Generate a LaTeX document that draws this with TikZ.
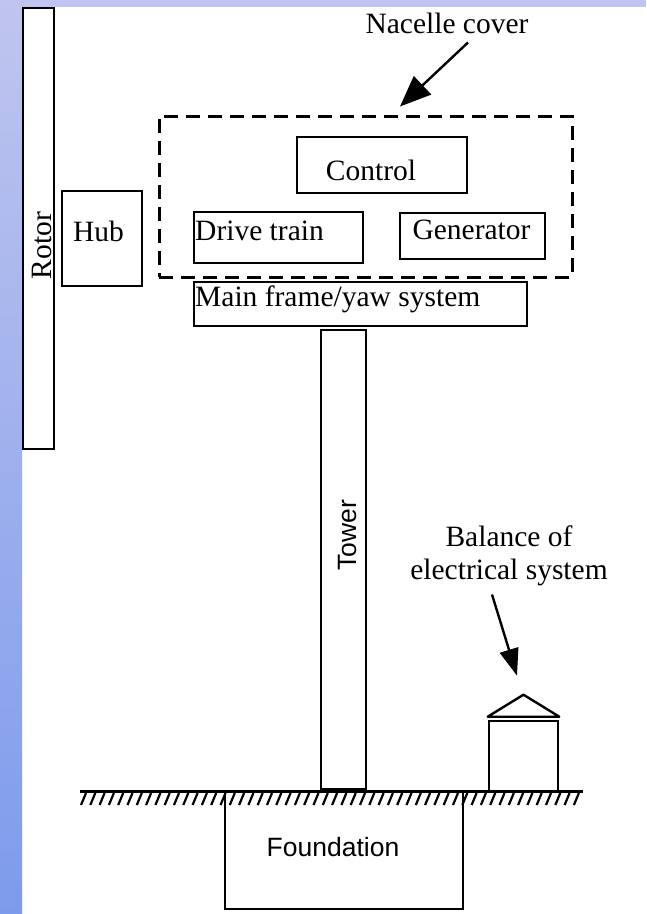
\documentclass[tikz,border=0pt]{standalone}
\usepackage{fontspec}
\setmainfont{Liberation Serif}
\setsansfont{Liberation Sans}
\usepackage{tikz}
\usepackage{xcolor}
\usetikzlibrary{arrows.meta,positioning,calc}
\definecolor{wtSlateTop}{HTML}{BFC5EE}
\definecolor{wtSlateBot}{HTML}{7D9BEC}
\tikzset{
  partBox/.style={draw=black, line width=2.6pt, fill=white, inner sep=0pt},
  coverBox/.style={draw=black, line width=3pt, dash pattern=on 14pt off 8pt, inner sep=0pt},
  partLabel/.style={font=\fontsize{29.5}{33}\selectfont, inner sep=0pt},
  sansLabel/.style={font=\sffamily\fontsize{26.5}{30}\selectfont, inner sep=0pt},
  pointArrow/.style={-{Triangle[length=31pt,width=25pt]}, line width=2.4pt},
  groundLine/.style={line width=3pt},
  hatchLine/.style={line width=2.2pt}
}

\begin{document}
\begin{tikzpicture}[x=1pt,y=-1pt]
  \useasboundingbox (0,0) rectangle (646,914);
  % slide background
  \fill[white] (0,0) rectangle (646,914);
  \shade[top color=wtSlateTop, bottom color=wtSlateBot] (0,0) rectangle (22,914);
  \fill[wtSlateTop] (22,0) rectangle (646,7);

  % rotor and hub
  \node[partBox, minimum width=31pt, minimum height=441pt] (rotor) at (38.5,228.5) {};
  \node[partLabel, rotate=90, anchor=base] (rotortxt) at (51,245.5) {Rotor};
  \node[partBox, minimum width=80pt, minimum height=95pt] (hub) at (102,238.5) {};
  \node[partLabel, anchor=base] (hubtxt) at (98.5,241) {Hub};

  % nacelle
  \node[coverBox, minimum width=413pt, minimum height=161pt] (nacelle) at (365.5,196.5) {};
  \node[partBox, minimum width=170pt, minimum height=56pt] (control) at (382,165) {};
  \node[partLabel, anchor=base] (controltxt) at (371,180) {Control};
  \node[partBox, minimum width=169pt, minimum height=51pt] (drive) at (278.5,237.5) {};
  \node[partLabel, anchor=base west] (drivetxt) at (195,240) {Drive train};
  \node[partBox, minimum width=145pt, minimum height=46pt] (generator) at (472.5,236) {};
  \node[partLabel, anchor=base] (generatortxt) at (471.5,239) {Generator};
  \node[partBox, minimum width=333pt, minimum height=44pt] (mainframe) at (360.5,304) {};
  \node[partLabel, anchor=base west] (mainframetxt) at (195,306) {Main frame/yaw system};
  \node[partLabel, anchor=base] (nacellelbl) at (447,33) {Nacelle cover};
  \draw[pointArrow] ([xshift=21pt,yshift=-9pt]nacellelbl.south) -- ([xshift=34.5pt,yshift=8pt]nacelle.north);

  % tower and foundation
  \node[partBox, minimum width=45pt, minimum height=459pt] (tower) at (343.5,559.5) {};
  \node[sansLabel, rotate=90, anchor=base] (towertxt) at (356,535) {Tower};
  \node[partBox, minimum width=238pt, minimum height=118pt] (foundation) at (344,850) {};
  \node[sansLabel, anchor=base] (foundationtxt) at (333,856) {Foundation};

  % ground
  \draw[groundLine] (80,791) -- (583,791);
  \foreach \x in {81,90.3,...,576} {
    \draw[hatchLine] (\x+5,793) -- (\x,805);
  }

  % balance of electrical system
  \node[partBox, minimum width=69pt, minimum height=70pt] (shed) at (523.5,756) {};
  \draw[line width=2.4pt, line join=round] ([yshift=3pt]shed.north west) -- ([yshift=25pt]shed.north) -- ([yshift=3pt]shed.north east) -- cycle;
  \node[partLabel, align=center, anchor=north] (balancelbl) at (509,526) {Balance of\\electrical system};
  \draw[pointArrow, -{Triangle[length=27pt,width=19pt]}] ([xshift=-17pt,yshift=-8pt]balancelbl.south) -- ([xshift=-6.5pt,yshift=44pt]shed.north);
\end{tikzpicture}
\end{document}
